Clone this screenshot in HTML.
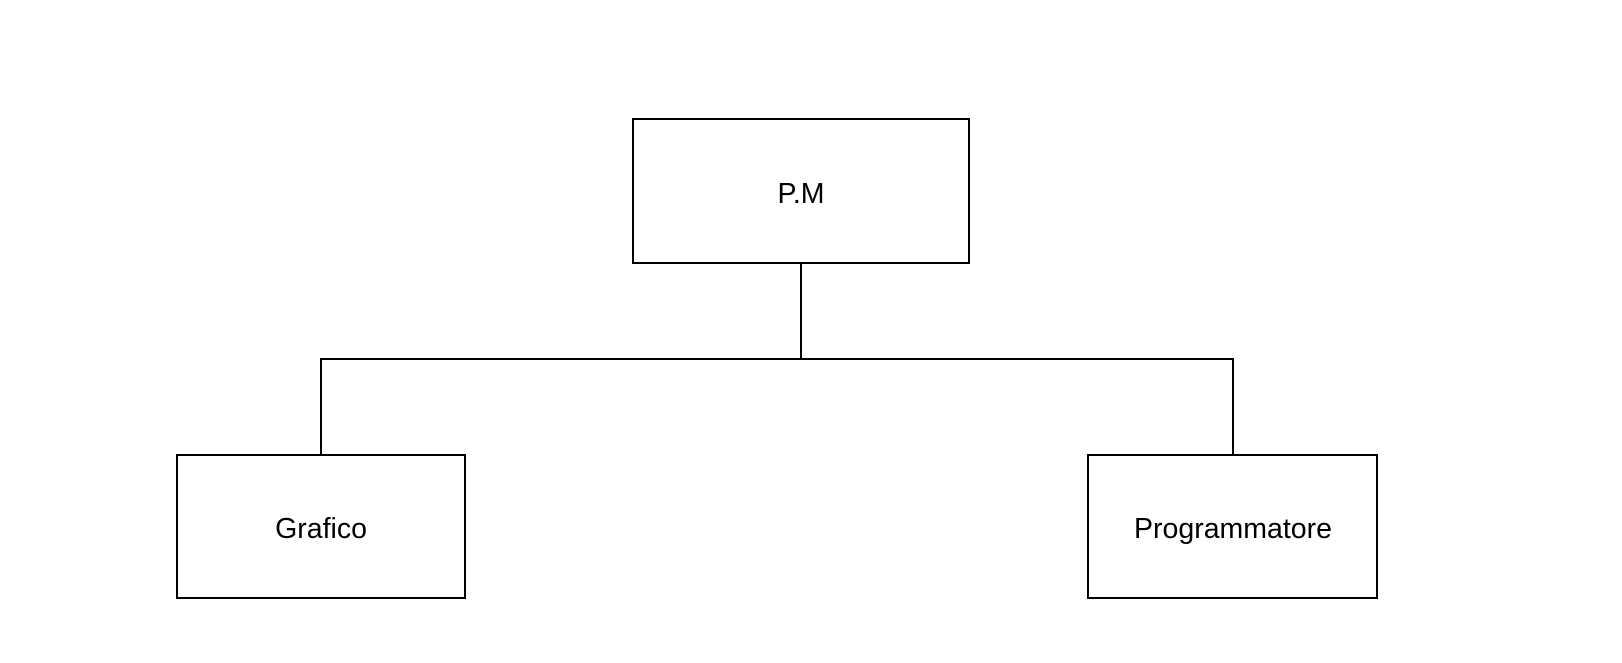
<!DOCTYPE html>
<html><head><meta charset="utf-8"><style>
html,body{margin:0;padding:0;background:#fff;}
</style></head><body>
<svg width="1622" height="663" xmlns="http://www.w3.org/2000/svg" style="display:block">
<g fill="none" stroke="#000" stroke-width="2">
<rect x="633" y="119" width="336" height="144"/>
<rect x="177" y="455" width="288" height="143"/>
<rect x="1088" y="455" width="289" height="143"/>
<line x1="801" y1="263" x2="801" y2="359"/>
<line x1="321" y1="359" x2="1233" y2="359"/>
<line x1="321" y1="358" x2="321" y2="455"/>
<line x1="1233" y1="358" x2="1233" y2="455"/>
</g>
<g font-family="Liberation Sans, Arial, sans-serif" font-size="28.5" fill="#000" text-anchor="middle">
<text x="801" y="203">P.M</text>
<text x="321" y="538">Grafico</text>
<text x="1233" y="538">Programmatore</text>
</g>
</svg>
</body></html>
